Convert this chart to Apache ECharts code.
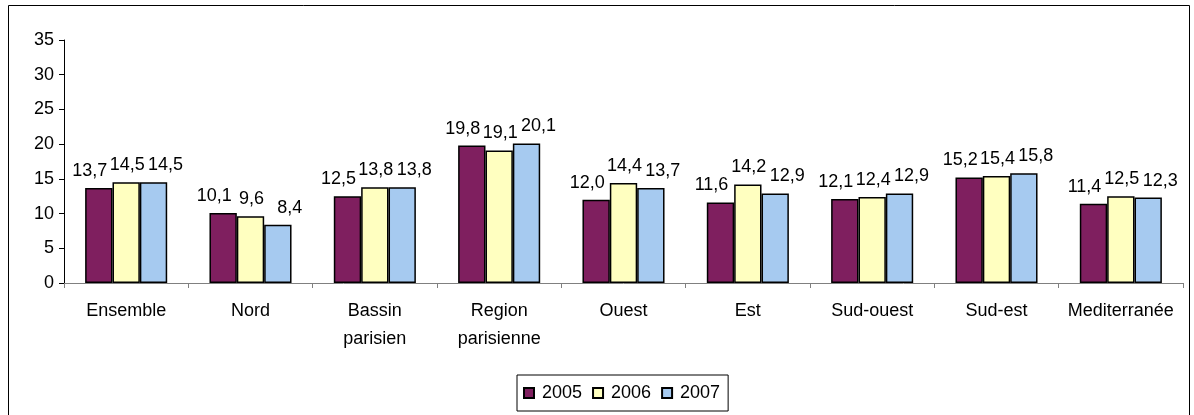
<!DOCTYPE html>
<html>
<head>
<meta charset="utf-8">
<script src="https://cdn.jsdelivr.net/npm/echarts@6/dist/echarts.min.js"></script>
<style>
  html, body { margin: 0; padding: 0; background: #fff; }
  #main { width: 1194px; height: 415px; }
</style>
</head>
<body>
<div id="main"></div>
<script>
// regions
var categories = ["Ensemble", "Nord", "Bassin\nparisien", "Region\nparisienne", "Ouest", "Est", "Sud-ouest", "Sud-est", "Mediterranée"];
var years = ["2005", "2006", "2007"];
var v2005 = [13.7, 10.1, 12.5, 19.8, 12.0, 11.6, 12.1, 15.2, 11.4];
var v2006 = [14.5, 9.6, 13.8, 19.1, 14.4, 14.2, 12.4, 15.4, 12.5];
var v2007 = [14.5, 8.4, 13.8, 20.1, 13.7, 12.9, 12.9, 15.8, 12.3];
var colors = ["#7f1f5f", "#ffffc0", "#a6caf0"];

var font = "'Liberation Sans', Arial, sans-serif";

// labelShift spreads the three labels of a group apart a little, as in the original
function makeSeries(name, values, color, labelShift) {
  return {
    name: name,
    type: "bar",
    data: values,
    barGap: "0%",
    barCategoryGap: "34%",
    itemStyle: { color: color, borderColor: "#000", borderWidth: 1.5 },
    label: {
      show: true,
      position: "top",
      distance: 8,
      offset: [labelShift, 0],
      color: "#000",
      fontFamily: font,
      fontSize: 18,
      formatter: function (p) {
        return p.value.toFixed(1).replace(".", ",");
      },
    },
  };
}

var myChart = echarts.init(document.getElementById("main"));
myChart.setOption({
  animation: false,
  backgroundColor: "#fff",
  textStyle: { fontFamily: font },
  graphic: [
    {
      type: "rect",
      shape: { x: 8.5, y: 5.5, width: 1181, height: 430 },
      style: { fill: "none", stroke: "#000", lineWidth: 1 },
      z: 0,
    },
  ],
  grid: { left: 64, right: 11, top: 40, bottom: 132 },
  legend: {
    data: years,
    left: 517,
    top: 375,
    padding: [9, 8, 9, 6],
    itemWidth: 10,
    itemHeight: 10,
    itemGap: 10,
    borderColor: "#000",
    borderWidth: 1,
    icon: "rect",
    textStyle: { fontSize: 18, color: "#000", fontFamily: font, padding: [0, 0, 0, 3] },
  },
  xAxis: {
    type: "category",
    data: categories,
    axisLine: { lineStyle: { color: "#808080" } },
    axisTick: { show: true, length: 5, inside: false, lineStyle: { color: "#808080" } },
    axisLabel: { color: "#000", fontSize: 18, margin: 14, lineHeight: 28, interval: 0 },
  },
  yAxis: {
    type: "value",
    min: 0,
    max: 35,
    interval: 5,
    axisLine: { show: true, lineStyle: { color: "#000" } },
    axisTick: { show: true, length: 5, lineStyle: { color: "#000" } },
    axisLabel: { color: "#000", fontSize: 18, margin: 10 },
    splitLine: { show: false },
  },
  series: [
    makeSeries(years[0], v2005, colors[0], -9),
    makeSeries(years[1], v2006, colors[1], 1),
    makeSeries(years[2], v2007, colors[2], 12),
  ],
});
</script>
</body>
</html>
